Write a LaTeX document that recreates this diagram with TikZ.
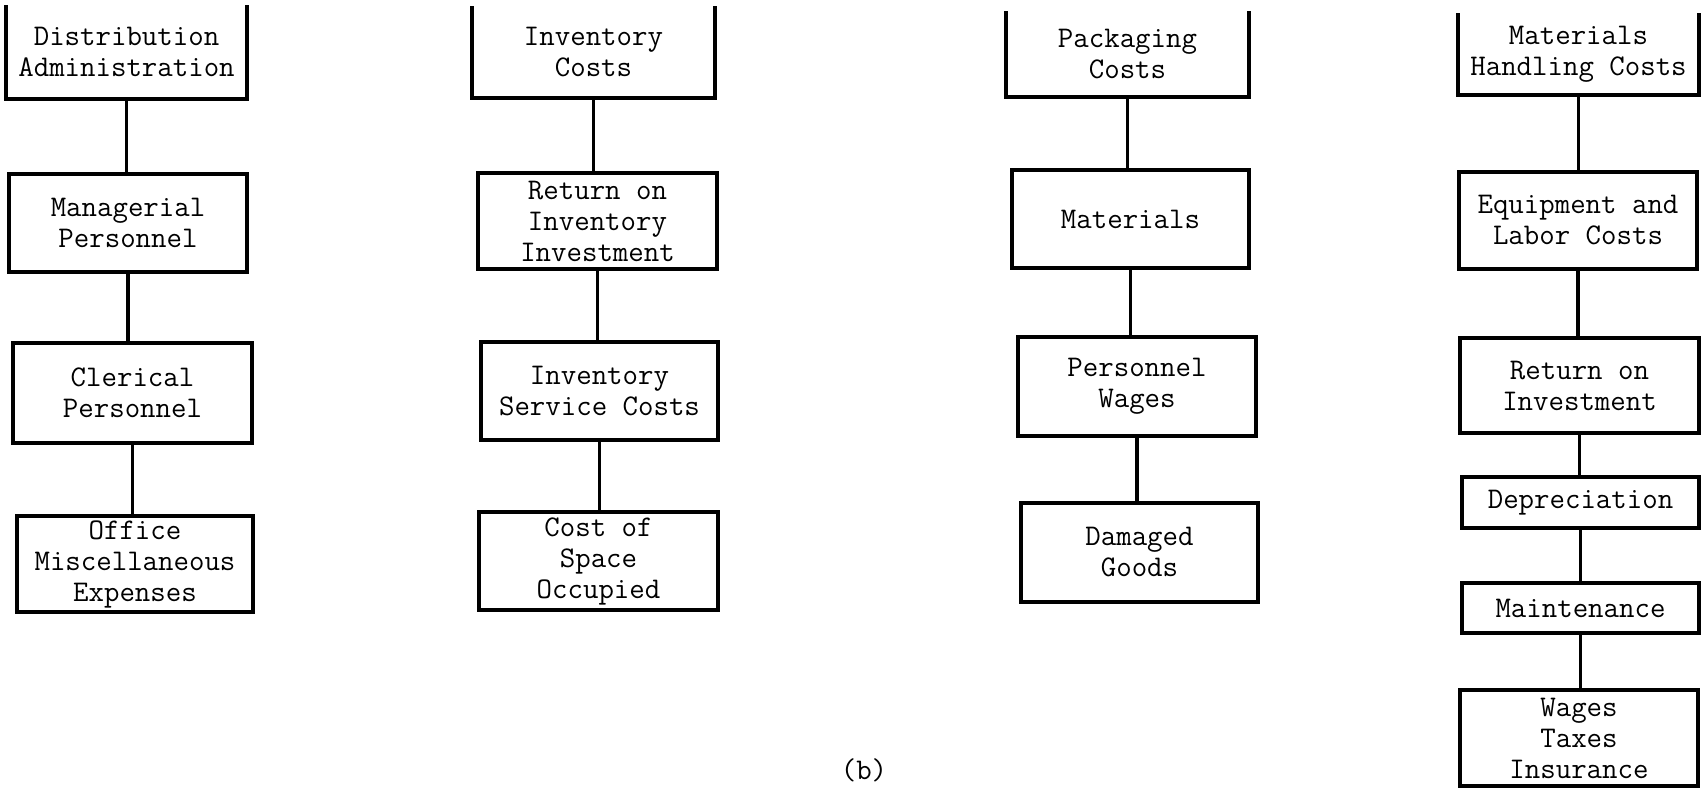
\documentclass[tikz,border=0pt]{standalone}
\usepackage{fontspec}
\newcommand\boxfontsel{\ttfamily\fontsize{15}{15.5}\selectfont\addfontfeatures{FakeBold=0.7}}
\begin{document}
\begin{tikzpicture}[x=0.5pt,y=-0.5pt,
  bx/.style={draw, line width=1.8pt, align=center, inner sep=0pt,
    font=\boxfontsel},
  topbx/.style={bx, draw=none},
  boxline/.style={line width=1.8pt, line join=miter},
  conn/.style={line width=1.6pt}]
\useasboundingbox (0,0) rectangle (1702,788);
\newcommand\mkbox[7][bx]{\node[#1, minimum width={(#5-#3)*0.5pt}, minimum height={(#6-#4)*0.5pt}] (#2) at ({(#3+#5)/2},{(#4+#6)/2}) {#7};}
\newcommand\opentop[1]{\draw[boxline] (#1.north west) -- (#1.south west) -- (#1.south east) -- (#1.north east);}
\newcommand\link[2]{\draw[conn] (#1.south) -- (#1.south |- #2.north);}
% column 1
\mkbox[topbx]{a0}{8}{7}{245}{97}{Distribution\\Administration}
\opentop{a0}
\mkbox{a1}{9}{174}{247}{272}{Managerial\\Personnel}
\mkbox{a2}{13}{343}{252}{443}{Clerical\\Personnel}
\mkbox{a3}{17}{516}{253}{612}{Office\\Miscellaneous\\Expenses}
\link{a0}{a1}\link{a1}{a2}\link{a2}{a3}
% column 2
\mkbox[topbx]{b0}{474}{8}{713}{96}{Inventory\\Costs}
\opentop{b0}
\mkbox{b1}{478}{173}{717}{269}{Return on\\Inventory\\Investment}
\mkbox{b2}{481}{342}{718}{440}{Inventory\\Service Costs}
\mkbox{b3}{479}{512}{718}{610}{Cost of\\Space\\Occupied}
\link{b0}{b1}\link{b1}{b2}\link{b2}{b3}
% column 3
\mkbox[topbx]{c0}{1008}{13}{1247}{95}{Packaging\\Costs}
\opentop{c0}
\mkbox{c1}{1012}{170}{1249}{268}{Materials}
\mkbox{c2}{1018}{337}{1256}{436}{Personnel\\Wages}
\mkbox{c3}{1021}{503}{1258}{602}{Damaged\\Goods}
\link{c0}{c1}\link{c1}{c2}\link{c2}{c3}
% column 4
\mkbox[topbx]{d0}{1460}{15}{1697}{93}{Materials\\Handling Costs}
\opentop{d0}
\mkbox{d1}{1459}{172}{1697}{269}{Equipment and\\Labor Costs}
\mkbox{d2}{1460}{338}{1699}{433}{Return on\\Investment}
\mkbox{d3}{1462}{477}{1699}{528}{Depreciation}
\mkbox{d4}{1462}{583}{1699}{633}{Maintenance}
\mkbox{d5}{1460}{690}{1698}{786}{Wages\\Taxes\\Insurance}
\link{d0}{d1}\link{d1}{d2}\link{d2}{d3}\link{d3}{d4}\link{d4}{d5}
% caption
\node[font=\boxfontsel, inner sep=0pt] (cap) at (864,770) {(b)};
\end{tikzpicture}
\end{document}
